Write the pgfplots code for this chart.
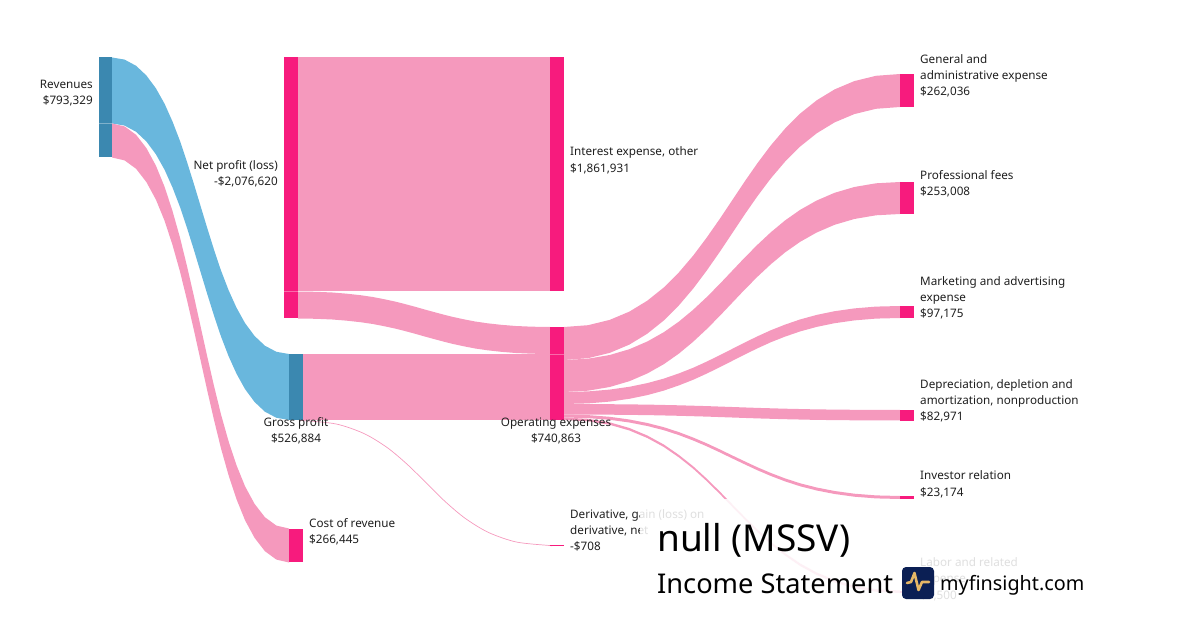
\documentclass[border=0pt]{standalone}
\usepackage{fontspec}
\setmainfont{Noto Sans}
\usepackage{pgfplots}
\usepackage{pgfplotstable}
\pgfplotsset{compat=1.18}
\usepgfplotslibrary{fillbetween}

\definecolor{linkpink}{HTML}{F599BD}
\definecolor{nodepink}{HTML}{F71B7D}
\definecolor{linkblue}{HTML}{69B7DD}
\definecolor{nodeblue}{HTML}{3B88B0}
\definecolor{logonavy}{HTML}{0B1F54}
\definecolor{logogold}{HTML}{E6B766}

% links, in pixels of the picture: x, upper edge, lower edge
\pgfplotstableread{
x top bot
112.0 57.5 123.5
124.6 59.6 125.6
136.1 65.8 131.8
146.4 75.5 141.5
155.9 88.3 154.3
164.6 103.8 169.8
172.5 121.5 187.5
180.0 141.0 207.0
187.0 161.9 227.9
193.8 183.6 249.6
200.5 205.8 271.8
207.2 227.9 293.9
214.0 249.6 315.6
221.0 270.5 336.5
228.5 290.0 356.0
236.5 307.7 373.7
245.1 323.2 389.2
254.6 336.0 402.0
264.9 345.7 411.7
276.4 351.8 417.8
289.0 354.0 420.0
}\revgross
\pgfplotstableread{
x top bot
112.0 123.5 157.5
124.6 126.4 160.4
136.1 134.8 168.8
146.4 148.1 182.1
155.9 165.6 199.6
164.6 186.8 220.8
172.5 211.0 245.0
180.0 237.6 271.6
187.0 266.1 300.1
193.8 295.7 329.7
200.5 326.0 360.0
207.2 356.3 390.3
214.0 385.9 419.9
221.0 414.4 448.4
228.5 441.0 475.0
236.5 465.2 499.2
245.1 486.4 520.4
254.6 503.9 537.9
264.9 517.2 551.2
276.4 525.6 559.6
289.0 528.5 562.5
}\revcost
\pgfplotstableread{
x top bot
298.0 291.5 318.5
316.0 291.8 318.8
332.3 292.5 319.5
347.0 293.7 320.7
360.5 295.2 322.2
372.8 297.0 324.0
384.2 299.2 326.2
394.8 301.5 328.5
404.8 304.0 331.0
414.5 306.6 333.6
424.0 309.3 336.3
433.5 311.9 338.9
443.2 314.5 341.5
453.2 317.0 344.0
463.8 319.3 346.3
475.2 321.5 348.5
487.5 323.3 350.3
501.0 324.8 351.8
515.7 326.0 353.0
532.0 326.7 353.7
550.0 327.0 354.0
}\netopex
\pgfplotstableread{
x top bot
564.0 327.0 360.0
588.0 325.2 358.2
609.7 319.9 352.9
629.4 311.6 344.6
647.3 300.7 333.7
663.8 287.5 320.5
678.9 272.4 305.4
693.1 255.7 288.7
706.5 237.9 270.9
719.4 219.4 252.4
732.0 200.5 233.5
744.6 181.6 214.6
757.5 163.1 196.1
770.9 145.3 178.3
785.1 128.6 161.6
800.2 113.5 146.5
816.7 100.3 133.3
834.6 89.4 122.4
854.3 81.1 114.1
876.0 75.8 108.8
900.0 74.0 107.0
}\opexga
\pgfplotstableread{
x top bot
564.0 360.0 392.0
588.0 358.7 390.7
609.7 355.0 387.0
629.4 349.2 381.2
647.3 341.5 373.5
663.8 332.2 364.2
678.9 321.6 353.6
693.1 309.8 341.8
706.5 297.3 329.3
719.4 284.3 316.3
732.0 271.0 303.0
744.6 257.7 289.7
757.5 244.7 276.7
770.9 232.2 264.2
785.1 220.4 252.4
800.2 209.8 241.8
816.7 200.5 232.5
834.6 192.8 224.8
854.3 187.0 219.0
876.0 183.3 215.3
900.0 182.0 214.0
}\opexprof
\pgfplotstableread{
x top bot
564.0 392.0 404.0
588.0 391.4 403.4
609.7 389.6 401.6
629.4 386.8 398.8
647.3 383.1 395.1
663.8 378.6 390.6
678.9 373.4 385.4
693.1 367.8 379.8
706.5 361.7 373.7
719.4 355.4 367.4
732.0 349.0 361.0
744.6 342.6 354.6
757.5 336.3 348.3
770.9 330.2 342.2
785.1 324.6 336.6
800.2 319.4 331.4
816.7 314.9 326.9
834.6 311.2 323.2
854.3 308.4 320.4
876.0 306.6 318.6
900.0 306.0 318.0
}\opexmkt
\pgfplotstableread{
x top bot
564.0 404.0 414.5
609.7 404.2 414.7
647.3 404.6 415.1
678.9 405.3 415.8
706.5 406.1 416.6
732.0 407.0 417.5
757.5 407.9 418.4
785.1 408.7 419.2
816.7 409.4 419.9
854.3 409.8 420.3
900.0 410.0 420.5
}\opexdep
\pgfplotstableread{
x top bot
564.0 414.5 417.5
588.0 415.1 418.1
609.7 416.8 419.8
629.4 419.5 422.5
647.3 423.0 426.0
663.8 427.2 430.2
678.9 432.1 435.1
693.1 437.5 440.5
706.5 443.2 446.2
719.4 449.2 452.2
732.0 455.3 458.3
744.6 461.3 464.3
757.5 467.3 470.3
770.9 473.0 476.0
785.1 478.4 481.4
800.2 483.3 486.3
816.7 487.5 490.5
834.6 491.0 494.0
854.3 493.7 496.7
876.0 495.4 498.4
900.0 496.0 499.0
}\opexinv
\pgfplotstableread{
x top bot
564.0 417.5 420.0
588.0 418.8 421.3
609.7 422.3 424.8
629.4 428.0 430.5
647.3 435.5 438.0
663.8 444.5 447.0
678.9 454.9 457.4
693.1 466.2 468.7
706.5 478.4 480.9
719.4 491.1 493.6
732.0 504.0 506.5
744.6 516.9 519.4
757.5 529.6 532.1
770.9 541.8 544.3
785.1 553.1 555.6
800.2 563.5 566.0
816.7 572.5 575.0
834.6 580.0 582.5
854.3 585.7 588.2
876.0 589.2 591.7
900.0 590.5 593.0
}\opexlabor

% one link: table, unique name, colour
\newcommand{\band}[3]{%
  \addplot[name path=#2t,draw=none] table[x=x,y=top]{#1};
  \addplot[name path=#2b,draw=none] table[x=x,y=bot]{#1};
  \addplot[fill=#3,draw=none] fill between[of=#2t and #2b];
}
% one block: x0, y0, x1, y1, colour
\newcommand{\block}[5]{%
  \addplot[fill=#5,draw=none] coordinates {(#1,#2) (#3,#2) (#3,#4) (#1,#4)} --cycle;
}
\newcommand{\lbl}[4]{\node[anchor=#1,text=black!88,inner sep=0pt,text height=13pt,text depth=3pt,font=\fontsize{11.7}{14}\selectfont] at (axis cs:#2,#3) {#4};}

\begin{document}
\begin{tikzpicture}
\begin{axis}[
  at={(0,0)}, anchor=south west,
  scale only axis, width=1200pt, height=630pt,
  xmin=0, xmax=1200, ymin=0, ymax=630,
  y dir=reverse, hide axis,
]
  \band{\revgross}{rg}{linkblue}
  \band{\revcost}{rc}{linkpink}
  \band{\netopex}{no}{linkpink}
  \band{\opexga}{ga}{linkpink}
  \band{\opexprof}{pf}{linkpink}
  \band{\opexmkt}{mk}{linkpink}
  \band{\opexdep}{dp}{linkpink}
  \band{\opexinv}{iv}{linkpink}
  \band{\opexlabor}{lb}{linkpink}

  \block{298}{57.5}{550}{291.5}{linkpink}
  \block{302.5}{354}{550}{420}{linkpink}
  % gross profit to derivative, hardly any width
  \addplot[linkpink,line width=0.7pt,smooth] coordinates {
    (302.5,420.5) (303.1,420.5) (336.2,424) (363.9,433.5) (387.1,447.5) (407.4,464.5) (426.3,483)
    (445.1,501.5) (465.4,518.5) (488.6,532.5) (516.3,542) (549.4,545.5) (550,545.5)};

  \block{98.5}{57.5}{112}{157.5}{nodeblue}
  \block{289}{354}{302.5}{420}{nodeblue}
  \block{289}{528.5}{302.5}{562}{nodepink}
  \block{284}{57.5}{298}{318.5}{nodepink}
  \block{550}{57.5}{564}{291.5}{nodepink}
  \block{550}{327}{564}{420}{nodepink}
  \addplot[nodepink,line width=1pt] coordinates {(550,545.5) (564,545.5)};
  \block{900}{74}{913.5}{107}{nodepink}
  \block{900}{182}{913.5}{214}{nodepink}
  \block{900}{306}{913.5}{318}{nodepink}
  \block{900}{410}{913.5}{421}{nodepink}
  \block{900}{496}{913.5}{499}{nodepink}
  \block{900}{590.5}{913.5}{593}{nodepink}

  % faint seams where two links meet a block
  \addplot[white,opacity=0.35,line width=0.6pt] coordinates {(98.5,123.5) (112,123.5)};
  \addplot[white,opacity=0.35,line width=0.6pt] coordinates {(284,291.5) (298,291.5)};
  \addplot[white,opacity=0.35,line width=0.6pt] coordinates {(550,354) (564,354)};

  \lbl{east}{93}{84}{Revenues}
  \lbl{east}{93}{100}{\$793,329}
  \lbl{east}{278}{165}{Net profit (loss)}
  \lbl{east}{278}{181}{-\$2,076,620}
  \lbl{center}{296}{421}{Gross profit}
  \lbl{center}{296}{437}{\$526,884}
  \lbl{west}{309}{522}{Cost of revenue}
  \lbl{west}{309}{538}{\$266,445}
  \lbl{west}{570}{151}{Interest expense, other}
  \lbl{west}{570}{167.5}{\$1,861,931}
  \lbl{center}{556}{421}{Operating expenses}
  \lbl{center}{556}{437}{\$740,863}
  \lbl{west}{570}{513.5}{Derivative, gain (loss) on}
  \lbl{west}{570}{529.5}{derivative, net}
  \lbl{west}{570}{545.5}{-\$708}
  \lbl{west}{920}{59}{General and}
  \lbl{west}{920}{75}{administrative expense}
  \lbl{west}{920}{91}{\$262,036}
  \lbl{west}{920}{175}{Professional fees}
  \lbl{west}{920}{191}{\$253,008}
  \lbl{west}{920}{281}{Marketing and advertising}
  \lbl{west}{920}{297}{expense}
  \lbl{west}{920}{313}{\$97,175}
  \lbl{west}{920}{384}{Depreciation, depletion and}
  \lbl{west}{920}{400}{amortization, nonproduction}
  \lbl{west}{920}{416}{\$82,971}
  \lbl{west}{920}{475}{Investor relation}
  \lbl{west}{920}{491}{\$23,174}
  \lbl{west}{920}{561}{Labor and related}
  \lbl{west}{920}{577}{expense}
  \lbl{west}{920}{594}{\$2,500}

  % white veil under the title
  \fill[white,opacity=0.86] (axis cs:640,499) rectangle (axis cs:1200,630);

  \node[anchor=west,inner sep=0pt,text=black,font=\fontsize{37}{40}\selectfont] at (axis cs:657,540) {null (MSSV)};
  \node[anchor=west,inner sep=0pt,text=black,font=\fontsize{27.2}{32}\selectfont] at (axis cs:657,584) {Income Statement};
  \fill[logonavy,rounded corners=4pt] (axis cs:902,567) rectangle (axis cs:934,599);
  \addplot[logogold,line width=2.6pt,line join=round,line cap=round] coordinates {
    (907,583) (911,582) (914.5,573) (918.5,590) (922,582) (929,582)};
  \node[anchor=west,inner sep=0pt,text=black,font=\fontsize{19.8}{24}\selectfont] at (axis cs:940,585) {myfinsight.com};
\end{axis}
\end{tikzpicture}
\end{document}
